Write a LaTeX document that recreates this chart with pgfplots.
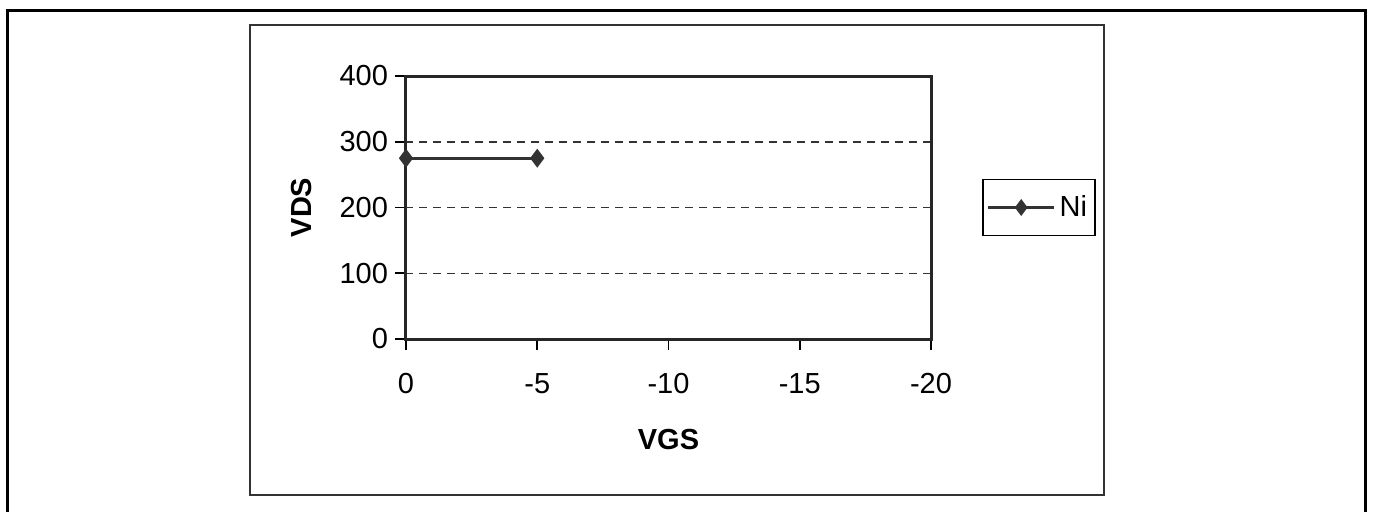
\documentclass[border=0pt]{standalone}
\usepackage{pgfplots}
\pgfplotsset{compat=1.18}
\usepackage{fontspec}
\setmainfont{Liberation Sans}
\begin{document}
\begin{tikzpicture}
\path[use as bounding box] (0,0) rectangle (687.5pt,255.5pt);
% outer frame
\draw[black, line width=1.5pt] (3.5pt,-5pt) -- (3.5pt,250.5pt) -- (682.5pt,250.5pt) -- (682.5pt,-5pt);
% chart area frame
\draw[black!80, line width=1.2pt] (125pt,8pt) rectangle (552pt,243pt);
\begin{axis}[
  at={(203pt,86pt)}, anchor=south west,
  scale only axis, width=262.5pt, height=131.5pt,
  xmin=-20, xmax=0, ymin=0, ymax=400,
  x dir=reverse,
  xtick={0,-5,-10,-15,-20},
  ytick={0,100,200,300,400},
  tick align=outside, tick pos=left,
  major tick length=5.5pt,
  every tick/.style={black, line width=0.8pt},
  axis line style={black!85, line width=1.5pt},
  ymajorgrids, grid style={black!80, line width=0.75pt, dash pattern=on 4pt off 3pt},
  tick label style={font=\fontsize{14.5}{16}\selectfont},
  /pgf/number format/assume math mode=true,
  xticklabel style={yshift=-8pt},
  xlabel={\textbf{VGS}}, ylabel={\textbf{VDS}},
  label style={font=\fontsize{14.5}{16}\selectfont},
  xlabel style={yshift=-11pt},
  ylabel style={yshift=7pt},
  legend style={at={(1.097,0.5)}, anchor=west, draw=black, line width=0.8pt,
    font=\fontsize{14.5}{16}\selectfont, inner sep=2pt,
    minimum height=24pt},
  legend cell align=left,
  legend image code/.code={
    \draw[#1, line width=1.5pt] (0pt,0pt) -- (33pt,0pt);
    \path[#1] plot[mark=diamond*, mark size=3pt, mark options={solid,fill=black!80,draw=black!80}] coordinates {(16.5pt,0pt)};
  },
]
\addplot[black!80, line width=1.5pt, mark=diamond*, mark size=3.5pt, mark options={fill=black!80, draw=black!80}]
  coordinates {(0,275) (-5,275)};
\addlegendentry{Ni}
\end{axis}
\end{tikzpicture}
\end{document}
